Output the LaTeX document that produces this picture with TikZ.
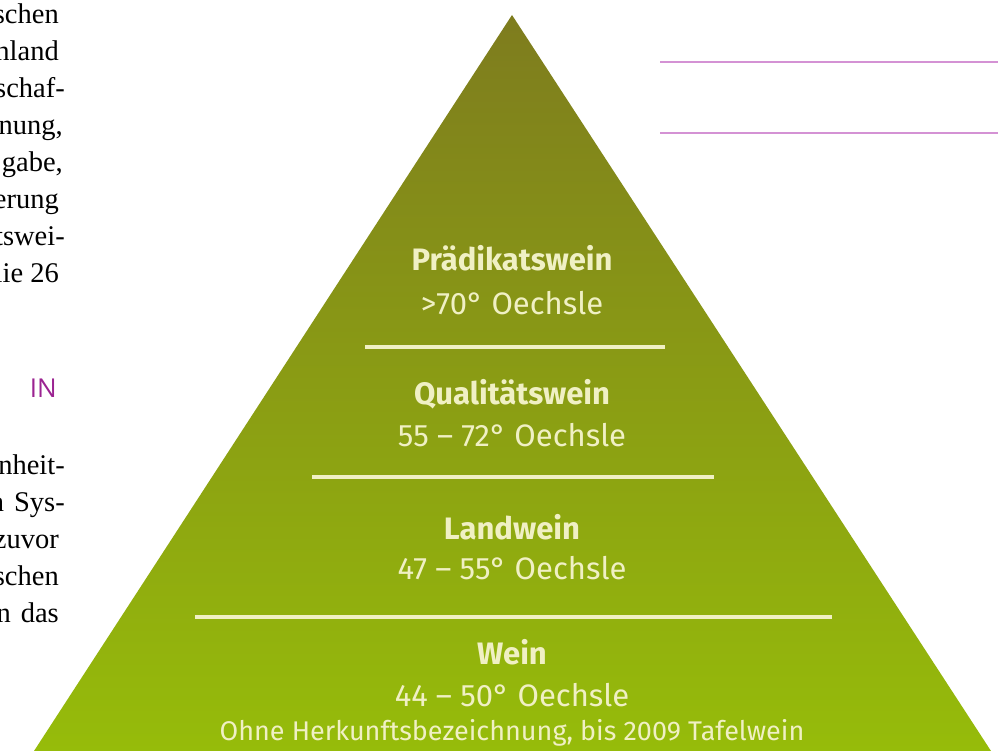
\documentclass[tikz,border=0pt]{standalone}
\usepackage{fontspec}
\setmainfont{Liberation Serif}
\newfontfamily\dinfont{Fira Sans}
\newfontfamily\labelfont{Open Sans}
\definecolor{cream}{RGB}{240,240,196}
\definecolor{olivetop}{RGB}{126,124,30}
\definecolor{midgreen}{RGB}{132,146,24}
\definecolor{limebottom}{RGB}{150,188,10}
\definecolor{pinkline}{RGB}{212,146,212}
\definecolor{purpletext}{RGB}{155,35,145}
\begin{document}
\begin{tikzpicture}[x=1pt,y=-1pt,
  body/.style={anchor=base east,inner sep=0pt,font=\fontsize{28.5}{28.5}\selectfont},
  title/.style={anchor=base,inner sep=0pt,text=cream,font=\dinfont\bfseries\fontsize{31}{31}\selectfont},
  value/.style={anchor=base,inner sep=0pt,text=cream,font=\dinfont\fontsize{31}{31}\selectfont},
  note/.style={anchor=base,inner sep=0pt,text=cream,font=\dinfont\fontsize{27}{27}\selectfont},
  sep/.style={draw=cream,line width=3.5pt},
  rule/.style={draw=pinkline,line width=1.6pt}]
\useasboundingbox (0,0) rectangle (998,751);

% pyramid
\coordinate (apex) at (512,15);
\coordinate (bl) at (34,751);
\coordinate (br) at (991,751);
\shade[top color=olivetop, middle color=midgreen, bottom color=limebottom] (apex) -- (bl) -- (br) -- cycle;

% separators
\coordinate (s1l) at (365,347); \coordinate (s1r) at (665,347);
\coordinate (s2l) at (312,477); \coordinate (s2r) at (714,477);
\coordinate (s3l) at (195,617); \coordinate (s3r) at (832,617);
\draw[sep] (s1l) -- (s1r);
\draw[sep] (s2l) -- (s2r);
\draw[sep] (s3l) -- (s3r);

% pyramid labels
\node[title] (t1) at (512,271) {Prädikatswein};
\node[value] (v1) at (512,314) {>70° Oechsle};
\node[title] (t2) at (512,404) {Qualitätswein};
\node[value] (v2) at (512,446) {55 – 72° Oechsle};
\node[title] (t3) at (512,539) {Landwein};
\node[value] (v3) at (512,579) {47 – 55° Oechsle};
\node[title] (t4) at (512,664) {Wein};
\node[value] (v4) at (512,706) {44 – 50° Oechsle};
\node[note] (n4) at (512,740) {Ohne Herkunftsbezeichnung, bis 2009 Tafelwein};

% pink rules at right
\coordinate (r1l) at (660,62); \coordinate (r1r) at (998,62);
\coordinate (r2l) at (660,133); \coordinate (r2r) at (998,133);
\draw[rule] (r1l) -- (r1r);
\draw[rule] (r2l) -- (r2r);

% left text column (cut off)
\node[body] (l1) at (59,24) {schen};
\node[body] (l2) at (59,61) {hland};
\node[body] (l3) at (65,98) {schaf-};
\node[body] (l4) at (63,135) {nung,};
\node[body] (l5) at (63,172) {gabe,};
\node[body] (l6) at (59,209) {erung};
\node[body] (l7) at (65,246) {tswei-};
\node[body] (l8) at (59,283) {lie 26};
\node[anchor=base east,inner sep=0pt,text=purpletext,font=\labelfont\fontsize{26}{26}\selectfont] (hd) at (57,397) {IN};
\node[body] (m1) at (65,474) {nheit-};
\node[body] (m2) at (65,511) {n\hskip 10pt Sys-};
\node[body] (m3) at (59,548) {zuvor};
\node[body] (m4) at (59,585) {schen};
\node[body] (m5) at (59,622) {n\hskip 10pt das};
\end{tikzpicture}
\end{document}
